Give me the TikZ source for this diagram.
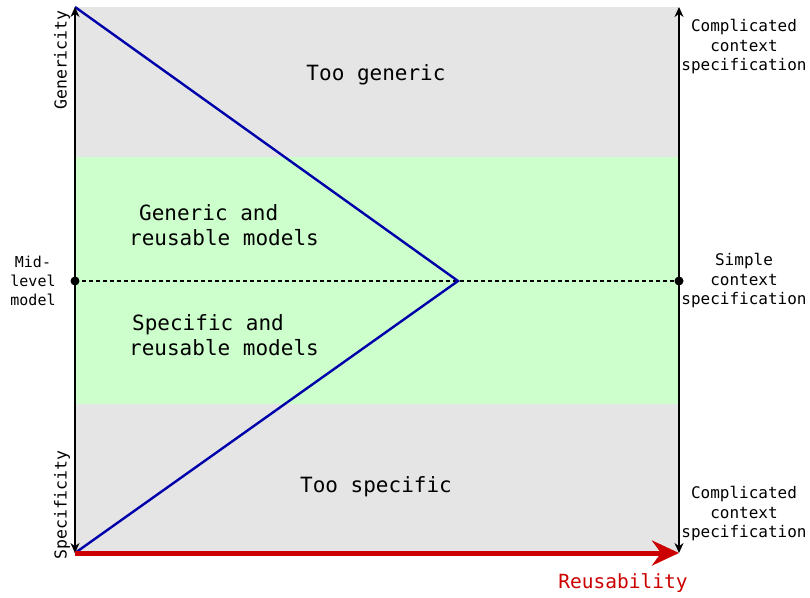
\documentclass[tikz,border=0pt]{standalone}
\usepackage{fontspec}
\setmainfont{DejaVu Sans Mono}
\usetikzlibrary{arrows.meta}
\definecolor{bggray}{HTML}{E5E5E5}
\definecolor{bandgreen}{HTML}{CCFFCC}
\definecolor{lineblue}{HTML}{0000AA}
\definecolor{axisred}{HTML}{CC0000}
\tikzset{
  mainlabel/.style={align=center, font=\fontsize{21}{25}\selectfont, inner sep=0pt},
  sidelabel/.style={align=center, font=\fontsize{16}{19.5}\selectfont, inner sep=0pt},
  axislabel/.style={font=\fontsize{16.5}{19}\selectfont, inner sep=0pt, rotate=90},
  axisline/.style={draw=black, line width=1.2pt, {Stealth[length=10pt,width=9pt]}-{Stealth[length=10pt,width=9pt]}},
  dot/.style={circle, fill=black, inner sep=0pt, minimum size=9pt}
}
\begin{document}
\begin{tikzpicture}[x=1pt,y=-1pt]
\useasboundingbox (0,0) rectangle (810,597);
% backgrounds
\fill[bggray] (75,7) rectangle (679,553);
\fill[bandgreen] (75,157) rectangle (679,404);
% coordinates
\coordinate (TL) at (75,7);
\coordinate (BL) at (75,553);
\coordinate (TR) at (679,7);
\coordinate (BR) at (679,553);
\coordinate (apex) at (458,281);
\node[dot] (ML) at (75,281) {};
\node[dot] (MR) at (679,281) {};
% dashed mid line
\draw[line width=1.1pt, dash pattern=on 4pt off 3pt] (ML.center) -- (MR.center);
% triangle
\draw[lineblue, line width=2.4pt, line join=miter] (TL) -- (apex) -- (BL);
% axes
\draw[axisline] (BL) -- (TL);
\draw[axisline] (BR) -- (TR);
% red axis
\draw[axisred, line width=5pt, -{Stealth[length=27pt,width=25pt,inset=9pt]}] (BL) -- (BR);
% labels
\node[axislabel] (gen) at (62,60) {Genericity};
\node[axislabel] (spec) at (62,505) {Specificity};
\node[sidelabel, font=\fontsize{15}{19}\selectfont] (mid) at (33,281) {Mid-\\level\\model};
\node[mainlabel] (toogen) at (376,75) {Too generic};
\node[mainlabel, align=left] (genre) at (224,225) {\hspace*{10pt}Generic and\\reusable models};
\node[mainlabel, align=left] (specre) at (224,335) {\hspace*{3pt}Specific and\\reusable models};
\node[mainlabel] (toospec) at (376,487) {Too specific};
\node[sidelabel] (ctop) at (744,47) {Complicated\\context\\specification};
\node[sidelabel] (cmid) at (744,281) {Simple\\context\\specification};
\node[sidelabel] (cbot) at (744,514) {Complicated\\context\\specification};
\node[font=\fontsize{19.5}{23}\selectfont, text=axisred, inner sep=0pt] (reuse) at (623,583) {Reusability};
\end{tikzpicture}
\end{document}
